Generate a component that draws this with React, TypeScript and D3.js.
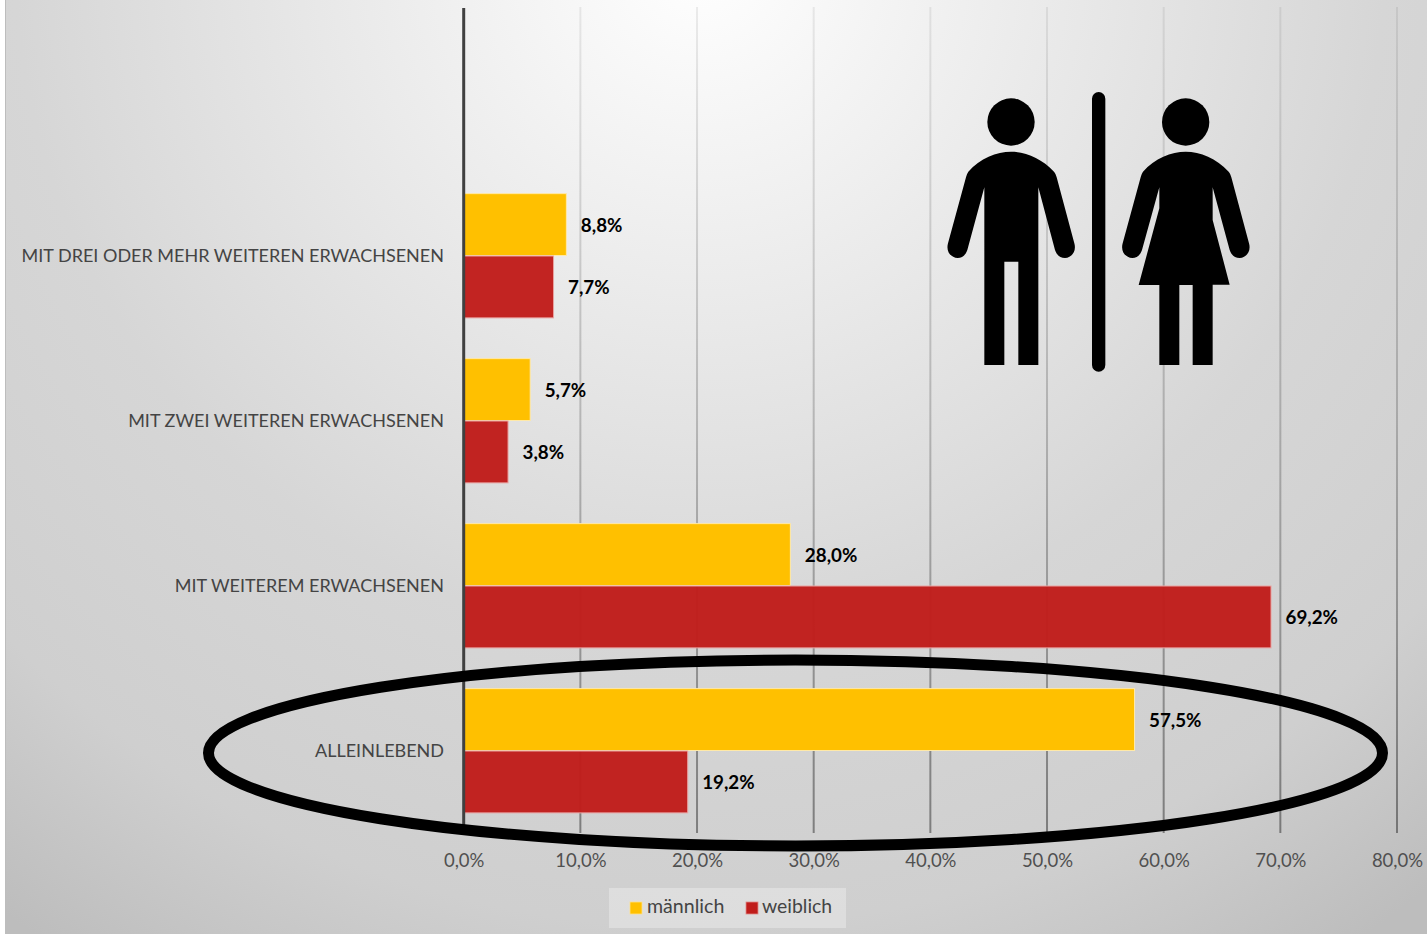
import React from "react";
import * as d3 from "d3";

const categories = ["", "MIT DREI ODER MEHR WEITEREN ERWACHSENEN", "MIT ZWEI WEITEREN ERWACHSENEN", "MIT WEITEREM ERWACHSENEN", "ALLEINLEBEND"];
const seriesNames = ["männlich", "weiblich"];
const maleValues = [null, 8.8, 5.7, 28.0, 57.5];
const femaleValues = [null, 7.7, 3.8, 69.2, 19.2];
const seriesColors = ["#ffc000", "#c01d1b"];
const tickValues = [0, 10, 20, 30, 40, 50, 60, 70, 80];

const W = 1427, H = 934;
const FONT = "Lato, 'Open Sans', sans-serif";
const x = d3.scaleLinear().domain([0, 80]).range([463.7, 1397]);
const y = d3.scaleBand<string>().domain(categories).range([8, 833]).paddingInner(0.25).paddingOuter(0.125);
const sub = d3.scaleBand<string>().domain(seriesNames).range([0, y.bandwidth()]);
const fmt = (v: number) => d3.format(".1f")(v).replace(".", ",") + "%";

const manPath = "M115 275C150 235 200 215 243 215C287 215 335 235 372 275C376 280 378 285 380 292L433 490C440 515 425 533 405 534C390 534 380 525 375 510L325 322V855H265V545H223V855H163V322L112 510C107 525 97 534 83 534C63 533 47 515 54 490L108 292C110 285 112 280 115 275Z";
const womanPath = "M639 275C674 235 724 215 767 215C811 215 859 235 896 275C900 280 902 285 904 292L957 490C964 515 949 533 929 534C914 534 904 525 899 510L848 322V420L899 614H848V855H788V615H748V855H688V615H626L688 385V322L636 510C631 525 621 534 607 534C587 533 571 515 578 490L632 292C634 285 636 280 639 275Z";

export default function App() {
  return (
    <svg width={W} height={H} viewBox={`0 0 ${W} ${H}`} style={{ position: "fixed", left: 0, top: 0, display: "block" }}>
      <defs>
        <radialGradient id="bg" gradientUnits="userSpaceOnUse" cx={700} cy={-40} r={1180}>
          <stop offset="0" stopColor="#ffffff" />
          <stop offset="0.58" stopColor="#d6d6d6" />
          <stop offset="0.82" stopColor="#cfcfcf" />
          <stop offset="1" stopColor="#bdbdbd" />
        </radialGradient>
        <linearGradient id="grid" gradientUnits="userSpaceOnUse" x1={0} y1={7} x2={0} y2={833}>
          <stop offset="0" stopColor="#000" stopOpacity={0.07} />
          <stop offset="0.5" stopColor="#000" stopOpacity={0.2} />
          <stop offset="1" stopColor="#000" stopOpacity={0.4} />
        </linearGradient>
      </defs>
      <rect x={0} y={0} width={W} height={H} fill="#ffffff" />
      <rect x={5} y={0} width={W - 5} height={H} fill="url(#bg)" />
      <line x1={5.5} x2={5.5} y1={0} y2={H} stroke="#bdbdbd" strokeWidth={1} />

      {tickValues.slice(1).map((t) => (
        <line key={t} x1={x(t)} x2={x(t)} y1={7} y2={833} stroke="url(#grid)" strokeWidth={2} />
      ))}

      {categories.map((c, i) => {
        if (!c) return null;
        const y0 = y(c)!;
        return (
          <g key={c}>
            <rect x={x(0)} y={y0 + sub(seriesNames[0])!} width={x(maleValues[i]!) - x(0)} height={sub.bandwidth()} fill={seriesColors[0]} stroke="#ffe9a8" strokeWidth={1} />
            <rect x={x(0)} y={y0 + sub(seriesNames[1])! + 0.5} width={x(femaleValues[i]!) - x(0)} height={sub.bandwidth()} fill={seriesColors[1]} fillOpacity={0.97} stroke="#e9a3a1" strokeWidth={1} />
            <text x={x(maleValues[i]!) + 14.5} y={y0 + sub(seriesNames[0])! + sub.bandwidth() / 2 + 7} fontFamily={FONT} fontWeight={700} fontSize={18.8} fill="#000">{fmt(maleValues[i]!)}</text>
            <text x={x(femaleValues[i]!) + 14.5} y={y0 + sub(seriesNames[1])! + sub.bandwidth() / 2 + 8} fontFamily={FONT} fontWeight={700} fontSize={18.8} fill="#000">{fmt(femaleValues[i]!)}</text>
            <text x={444} y={y0 + y.bandwidth() / 2 + 6} textAnchor="end" fontFamily={FONT} fontSize={18} fill="#444">{c}</text>
          </g>
        );
      })}

      <line x1={x(0)} x2={x(0)} y1={8} y2={833} stroke="#404040" strokeWidth={3} />

      {tickValues.map((t) => (
        <text key={t} x={x(t) + 0.5} y={867} textAnchor="middle" fontFamily={FONT} fontSize={18.5} fill="#505050">{fmt(t)}</text>
      ))}

      <rect x={609} y={888} width={237} height={40} fill="#ffffff" fillOpacity={0.3} />
      <rect x={630} y={902} width={12} height={12} fill={seriesColors[0]} stroke="#ffe08a" strokeWidth={0.8} />
      <text x={647} y={913} fontFamily={FONT} fontSize={19.6} fill="#444">{seriesNames[0]}</text>
      <rect x={746} y={902} width={12} height={12} fill={seriesColors[1]} stroke="#e08a88" strokeWidth={0.8} />
      <text x={762} y={913} fontFamily={FONT} fontSize={19.4} fill="#444">{seriesNames[1]}</text>

      <ellipse cx={795.5} cy={753} rx={587} ry={93} fill="none" stroke="#000" strokeWidth={11} />

      <g transform="translate(930,80) scale(0.33333)" fill="#000">
        <circle cx={243} cy={126} r={71} />
        <circle cx={767} cy={126} r={71} />
        <path d={manPath} />
        <path d={womanPath} />
        <rect x={486} y={36} width={40} height={839} rx={20} />
      </g>
    </svg>
  );
}
